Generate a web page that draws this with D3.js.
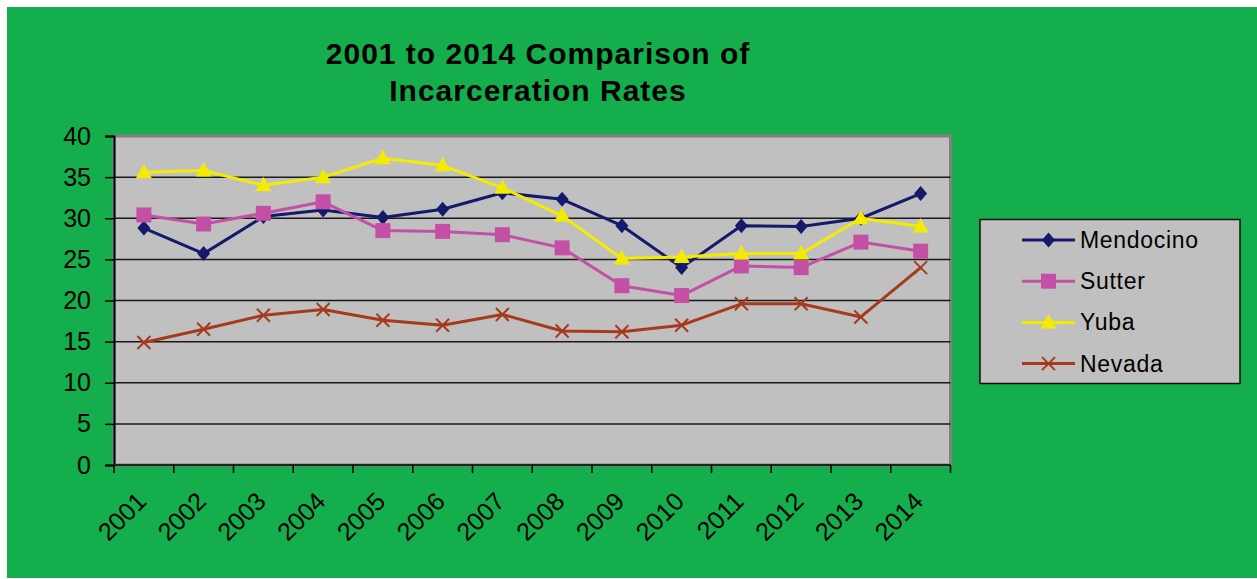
<!DOCTYPE html>
<html>
<head>
<meta charset="utf-8">
<script src="https://cdn.jsdelivr.net/npm/d3@7"></script>
<style>
  html, body { margin: 0; padding: 0; background: #ffffff; }
  svg { display: block; font-family: "Liberation Sans", Arial, sans-serif; }
</style>
</head>
<body>
<svg id="chart" width="1257" height="579"></svg>
<script>
// Incarceration rates by county, 2001–2014
const years = ["2001","2002","2003","2004","2005","2006","2007","2008","2009","2010","2011","2012","2013","2014"];
const mendocino = [28.8, 25.7, 30.2, 31.0, 30.1, 31.1, 33.1, 32.3, 29.1, 24.0, 29.1, 29.0, 30.0, 33.0];
const sutter    = [30.4, 29.3, 30.6, 32.0, 28.5, 28.4, 28.0, 26.4, 21.8, 20.6, 24.2, 24.0, 27.1, 26.0];
const yuba      = [35.6, 35.8, 34.0, 35.0, 37.3, 36.4, 33.7, 30.3, 25.1, 25.3, 25.7, 25.7, 30.0, 29.0];
const nevada    = [14.9, 16.5, 18.2, 18.9, 17.6, 17.0, 18.3, 16.3, 16.2, 17.0, 19.6, 19.6, 18.0, 24.0];
const seriesNames = ["Mendocino", "Sutter", "Yuba", "Nevada"];
const yTicks = [0, 5, 10, 15, 20, 25, 30, 35, 40];
const titleLines = ["2001 to 2014 Comparison of", "Incarceration Rates"];

const series = [
  { name: seriesNames[0], values: mendocino, color: "#14196b", marker: "diamond" },
  { name: seriesNames[1], values: sutter,    color: "#c450a6", marker: "square" },
  { name: seriesNames[2], values: yuba,      color: "#f4ec00", marker: "triangle" },
  { name: seriesNames[3], values: nevada,    color: "#a63a1c", marker: "cross" }
];

const svg = d3.select("#chart");

// green chart background
svg.append("rect").attr("x", 7).attr("y", 7).attr("width", 1250).attr("height", 571)
  .attr("fill", "#14ae4c");

const plot = { left: 114, right: 950.5, top: 136, bottom: 465 };

const x = d3.scaleBand().domain(years).range([plot.left, plot.right]).padding(0);
const y = d3.scaleLinear().domain([0, 40]).range([plot.bottom, plot.top]);

// plot area
svg.append("rect")
  .attr("x", plot.left).attr("y", plot.top)
  .attr("width", plot.right - plot.left).attr("height", plot.bottom - plot.top)
  .attr("fill", "#c0c0c0").attr("stroke", "#808080").attr("stroke-width", 3);

// horizontal gridlines
svg.append("g").selectAll("line")
  .data(yTicks.filter(d => d > 0 && d < 40))
  .join("line")
  .attr("x1", plot.left).attr("x2", plot.right)
  .attr("y1", d => y(d)).attr("y2", d => y(d))
  .attr("stroke", "#1a1a1a").attr("stroke-width", 1.5);

// y axis
const yAxis = svg.append("g")
  .attr("transform", `translate(${plot.left},0)`)
  .call(d3.axisLeft(y).tickValues(yTicks).tickSize(9).tickPadding(14).tickFormat(d3.format("d")));
yAxis.select(".domain").attr("stroke", "#000").attr("stroke-width", 2);
yAxis.selectAll(".tick line").attr("stroke", "#000").attr("stroke-width", 1.5);
yAxis.selectAll(".tick text")
  .attr("font-size", 25).attr("fill", "#000")
  .attr("font-family", "'Liberation Sans', Arial, sans-serif");

// x axis: line, boundary ticks and rotated year labels
const xAxis = svg.append("g").attr("transform", `translate(0,${plot.bottom})`);
xAxis.append("line")
  .attr("x1", plot.left).attr("x2", plot.right)
  .attr("stroke", "#222").attr("stroke-width", 2);
const bounds = years.map(d => x(d)).concat([x(years[years.length - 1]) + x.bandwidth()]);
xAxis.selectAll("line.tick").data(bounds).join("line")
  .attr("class", "tick")
  .attr("x1", d => d).attr("x2", d => d)
  .attr("y1", 0).attr("y2", 8)
  .attr("stroke", "#000").attr("stroke-width", 1.5);
xAxis.selectAll("text").data(years).join("text")
  .attr("transform", d => `translate(${x(d) + x.bandwidth() / 2 + 4},38) rotate(-45)`)
  .attr("text-anchor", "end")
  .attr("font-size", 25).attr("fill", "#000")
  .text(d => d);

// marker shapes
function markerPath(type) {
  switch (type) {
    case "diamond":  return "M0,-7.5L6.5,0L0,7.5L-6.5,0Z";
    case "square":   return "M-7.5,-7.5H7.5V7.5H-7.5Z";
    case "triangle": return "M0,-8.5L8,6H-8Z";
    case "cross":    return "M-6.5,-6.5L6.5,6.5M-6.5,6.5L6.5,-6.5";
  }
}

function drawMarker(g, type, color) {
  const p = g.append("path").attr("d", markerPath(type));
  if (type === "cross") {
    p.attr("fill", "none").attr("stroke", color).attr("stroke-width", 2);
  } else {
    p.attr("fill", color).attr("stroke", "none");
  }
}

const line = d3.line()
  .x((d, i) => x(years[i]) + x.bandwidth() / 2)
  .y(d => y(d));

series.forEach(s => {
  const g = svg.append("g");
  g.append("path")
    .attr("d", line(s.values))
    .attr("fill", "none")
    .attr("stroke", s.color)
    .attr("stroke-width", 3)
    .attr("stroke-linejoin", "round");
  s.values.forEach((v, i) => {
    const m = g.append("g")
      .attr("transform", `translate(${x(years[i]) + x.bandwidth() / 2},${y(v)})`);
    drawMarker(m, s.marker, s.color);
  });
});

// title
svg.append("g").selectAll("text").data(titleLines).join("text")
  .attr("x", 538).attr("y", (d, i) => 63.5 + i * 37.5)
  .attr("text-anchor", "middle")
  .attr("font-size", 30).attr("font-weight", "bold")
  .attr("letter-spacing", 1)
  .attr("fill", "#000")
  .text(d => d);

// legend
const legend = svg.append("g");
legend.append("rect")
  .attr("x", 980).attr("y", 219.5).attr("width", 260).attr("height", 164)
  .attr("fill", "#c0c0c0").attr("stroke", "#111").attr("stroke-width", 1.5);
series.forEach((s, i) => {
  const row = legend.append("g").attr("transform", `translate(0,${240 + i * 41.2})`);
  row.append("line")
    .attr("x1", 1022).attr("x2", 1075)
    .attr("stroke", s.color).attr("stroke-width", 3);
  const m = row.append("g").attr("transform", "translate(1048.5,0)");
  drawMarker(m, s.marker, s.color);
  row.append("text")
    .attr("x", 1080).attr("y", 0).attr("dy", "0.35em")
    .attr("font-size", 23).attr("letter-spacing", 0.7)
    .attr("fill", "#000")
    .text(s.name);
});
</script>
</body>
</html>
